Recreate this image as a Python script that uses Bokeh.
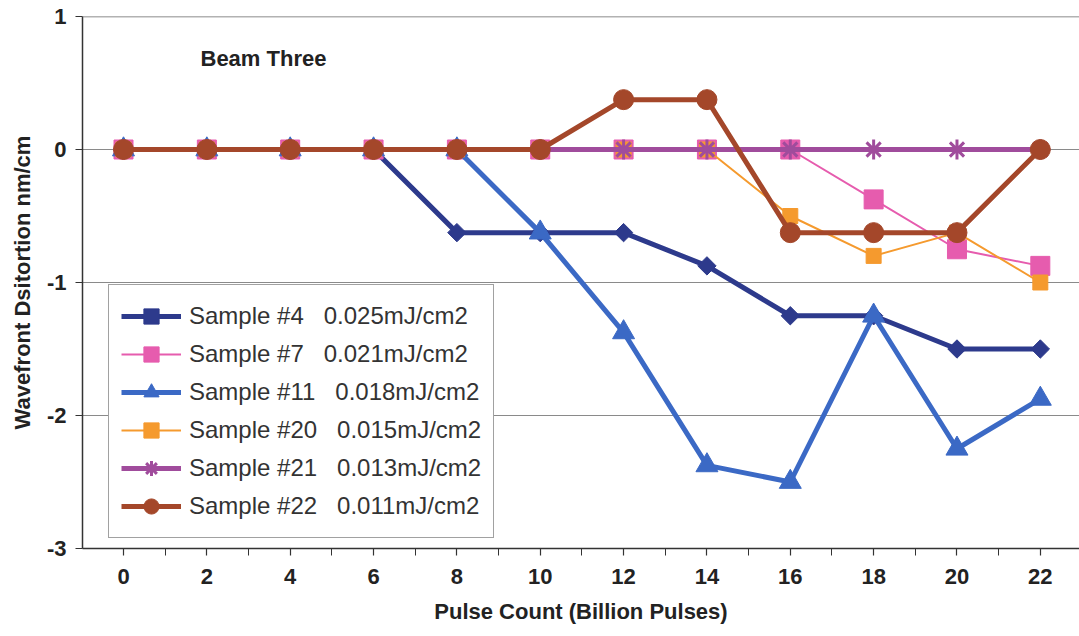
import numpy as np
from bokeh.plotting import figure
from bokeh.models import (Range1d, FixedTicker, Legend, LegendItem, Label, Span,
                          ColumnDataSource)
from bokeh.embed import file_html
from bokeh.resources import INLINE

# ---- data ----
pulse = [0, 2, 4, 6, 8, 10, 12, 14, 16, 18, 20, 22]
s4 = [0, 0, 0, 0, -0.625, -0.625, -0.625, -0.875, -1.25, -1.25, -1.5, -1.5]
s7 = [0, 0, 0, 0, 0, 0, 0, 0, 0, -0.375, -0.75, -0.875]
s11 = [0, 0, 0, 0, 0, -0.625, -1.375, -2.375, -2.5, -1.25, -2.25, -1.875]
s20 = [0, 0, 0, 0, 0, 0, 0, 0, -0.5, -0.8, -0.625, -1.0]
s21 = [0, 0, 0, 0, 0, 0, 0, 0, 0, 0, 0, 0]
s22 = [0, 0, 0, 0, 0, 0, 0.375, 0.375, -0.625, -0.625, -0.625, 0]
labels = ["Sample #4\u00a0\u00a0 0.025mJ/cm2",
          "Sample #7\u00a0\u00a0 0.021mJ/cm2",
          "Sample #11\u00a0\u00a0 0.018mJ/cm2",
          "Sample #20\u00a0\u00a0 0.015mJ/cm2",
          "Sample #21\u00a0\u00a0 0.013mJ/cm2",
          "Sample #22\u00a0\u00a0 0.011mJ/cm2"]
y_ticks = [-3, -2, -1, 0, 1]
y_tick_labels = ["-3", "-2", "-1", "0", "1"]
x_ticks = [0, 2, 4, 6, 8, 10, 12, 14, 16, 18, 20, 22]
x_minor = [1, 3, 5, 7, 9, 11, 13, 15, 17, 19, 21]

FONT = "Liberation Sans"

p = figure(width=1079, height=636, output_backend="svg", toolbar_location=None,
           x_range=Range1d(-0.984, 22.94), y_range=Range1d(-3, 1),
           min_border_left=82, min_border_right=0, min_border_top=16,
           min_border_bottom=88)
p.outline_line_color = None
p.background_fill_color = "white"
p.border_fill_color = "white"

# axes
for ax in (p.xaxis[0], p.yaxis[0]):
    ax.axis_line_color = "#333333"
    ax.axis_line_width = 1.5
    ax.major_tick_line_color = "#333333"
    ax.major_tick_line_width = 1.2
    ax.major_tick_in = 0
    ax.major_tick_out = 7
    ax.major_label_text_font = FONT
    ax.major_label_text_font_style = "bold"
    ax.major_label_text_font_size = "22px"
    ax.major_label_text_color = "#222222"
    ax.axis_label_text_font = FONT
    ax.axis_label_text_font_style = "bold"
    ax.axis_label_text_font_size = "22px"
    ax.axis_label_text_color = "#222222"

p.xaxis[0].ticker = FixedTicker(ticks=x_ticks, minor_ticks=x_minor)
p.xaxis[0].minor_tick_line_color = "#333333"
p.xaxis[0].minor_tick_in = 0
p.xaxis[0].minor_tick_out = 7
p.xaxis[0].major_label_standoff = 13
p.xaxis[0].axis_label = "Pulse Count (Billion Pulses)"
p.xaxis[0].axis_label_standoff = 12

p.yaxis[0].ticker = FixedTicker(ticks=y_ticks)
p.yaxis[0].major_label_overrides = {t: s for t, s in zip(y_ticks, y_tick_labels)}
p.yaxis[0].minor_tick_line_color = None
p.yaxis[0].major_label_standoff = 9
p.yaxis[0].axis_label = "Wavefront Dsitortion nm/cm"
p.yaxis[0].axis_label_standoff = 9

p.xgrid.grid_line_color = None
p.ygrid.ticker = FixedTicker(ticks=[-2, -1, 0])
p.ygrid.grid_line_color = "#8a8a8a"
p.ygrid.grid_line_width = 1.2

p.add_layout(Span(location=1, dimension="width", line_color="#666666", line_width=1.5))

series = [
    (s4, "#2d3a8c", 5, "square", 13, np.pi / 4, 1),
    (s7, "#e65cae", 2, "square", 19, 0, 1),
    (s11, "#3b69c5", 5, "triangle", 22, 0, 1),
    (s20, "#f59a2e", 2, "square", 15, 0, 1),
    (s21, "#a04c9c", 5, "asterisk", 20, 0, 3),
    (s22, "#a4472a", 5, "circle", 20, 0, 1),
]

items = []
for (vals, col, lw, mk, sz, ang, mlw), lab in zip(series, labels):
    src = ColumnDataSource(dict(x=pulse, y=vals))
    ln = p.line("x", "y", source=src, line_color=col, line_width=lw)
    sc = p.scatter("x", "y", source=src, marker=mk, size=sz, angle=ang,
                   fill_color=col, line_color=col, line_width=mlw)
    items.append(LegendItem(label=lab, renderers=[ln, sc]))

legend = Legend(items=items, location=(26, 10), border_line_color="#444444",
                border_line_width=1.2, background_fill_color="white",
                background_fill_alpha=1, padding=12, spacing=0, margin=0,
                glyph_width=60, glyph_height=38, label_height=38,
                label_standoff=8, label_text_font=FONT,
                label_text_font_size="24px", label_text_color="#333333",
                label_text_baseline="middle")
p.add_layout(legend)

p.add_layout(Label(x=118, y=490, x_units="screen", y_units="screen",
                   text="Beam Three", text_font=FONT, text_font_style="bold",
                   text_font_size="22px", text_color="#222222",
                   text_baseline="middle"))

open("out.html", "w").write(file_html(p, INLINE))
